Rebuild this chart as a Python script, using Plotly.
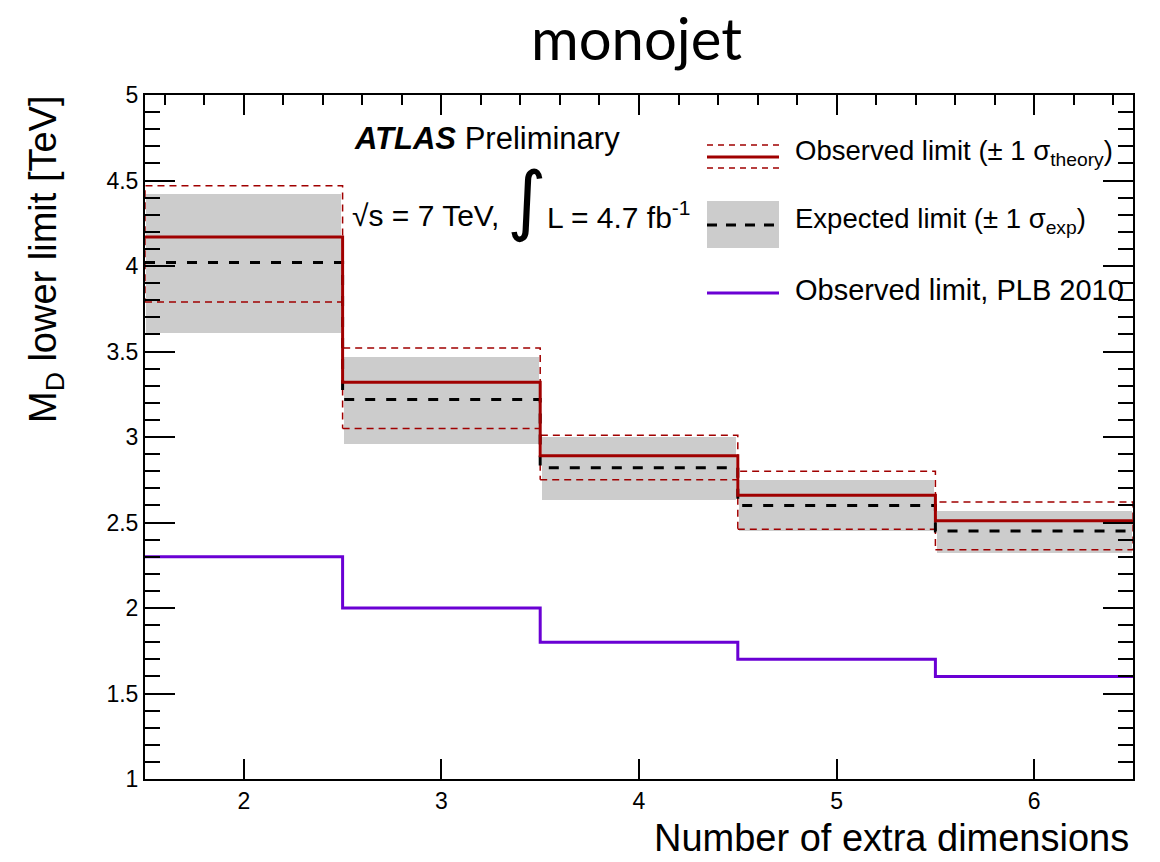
import plotly.graph_objects as go

# ---- data ----
n_dims = [2, 3, 4, 5, 6]
obs_limit = [4.17, 3.32, 2.89, 2.66, 2.51]
obs_up = [4.47, 3.52, 3.01, 2.80, 2.62]
obs_dn = [3.79, 3.05, 2.75, 2.46, 2.34]
exp_limit = [4.02, 3.22, 2.82, 2.60, 2.45]
exp_up = [4.42, 3.47, 3.00, 2.75, 2.57]
exp_dn = [3.61, 2.96, 2.63, 2.45, 2.32]
plb2010 = [2.30, 2.00, 1.80, 1.70, 1.60]

RED = "#a00000"
PURPLE = "#6a00d4"
GREY = "#cccccc"
FONT = "Liberation Sans"

W, H = 1160, 862
L, R, T, B = 145, 1133, 95, 779


def px(x):
    return (x - L) / (R - L)


def py(y):
    return (B - y) / (B - T)


edges = [v - 0.5 for v in n_dims] + [n_dims[-1] + 0.5]


def step(vals):
    return vals + [vals[-1]]


fig = go.Figure()

# expected +-1 sigma band (grey boxes)
fig.add_trace(go.Bar(
    x=n_dims, base=exp_dn, y=[u - d for u, d in zip(exp_up, exp_dn)],
    width=0.985, marker=dict(color=GREY, line=dict(width=0)),
    showlegend=False, hoverinfo="skip"))

# theory +-1 sigma boxes (dashed red outlines)
bx, by = [], []
for n, d, u in zip(n_dims, obs_dn, obs_up):
    bx += [n - 0.5, n + 0.5, n + 0.5, n - 0.5, n - 0.5, None]
    by += [d, d, u, u, d, None]
fig.add_trace(go.Scatter(x=bx, y=by, mode="lines",
                         line=dict(color=RED, width=1.5, dash="7px,5px"),
                         showlegend=False, hoverinfo="skip"))

# expected limit
fig.add_trace(go.Scatter(x=edges, y=step(exp_limit), mode="lines",
                         line=dict(color="black", width=3, shape="hv", dash="10px,11px"),
                         showlegend=False))
# observed limit
fig.add_trace(go.Scatter(x=edges, y=step(obs_limit), mode="lines",
                         line=dict(color=RED, width=3, shape="hv"),
                         showlegend=False))
# PLB 2010
fig.add_trace(go.Scatter(x=edges, y=step(plb2010), mode="lines", xaxis="x2",
                         line=dict(color=PURPLE, width=3, shape="hv"),
                         showlegend=False))

shapes = []
# legend item 1
x0, x1 = px(707), px(779)
shapes.append(dict(type="line", xref="paper", yref="paper", x0=x0, x1=x1, y0=py(145), y1=py(145),
                   line=dict(color=RED, width=1.5, dash="6px,5px")))
shapes.append(dict(type="line", xref="paper", yref="paper", x0=x0, x1=x1, y0=py(157), y1=py(157),
                   line=dict(color=RED, width=3)))
shapes.append(dict(type="line", xref="paper", yref="paper", x0=x0, x1=x1, y0=py(168), y1=py(168),
                   line=dict(color=RED, width=1.5, dash="6px,5px")))
# legend item 2
shapes.append(dict(type="rect", xref="paper", yref="paper", x0=x0, x1=x1, y0=py(248), y1=py(201),
                   fillcolor=GREY, line=dict(width=0)))
shapes.append(dict(type="line", xref="paper", yref="paper", x0=x0, x1=x1, y0=py(225), y1=py(225),
                   line=dict(color="black", width=3, dash="10px,9px")))
# legend item 3
shapes.append(dict(type="line", xref="paper", yref="paper", x0=x0, x1=x1, y0=py(293), y1=py(293),
                   line=dict(color=PURPLE, width=3)))

ann = []


def add_text(text, x, y, size, xanchor="left", yanchor="middle", family=FONT, angle=0):
    ann.append(dict(text=text, x=px(x), y=py(y), xref="paper", yref="paper",
                    xanchor=xanchor, yanchor=yanchor, showarrow=False, textangle=angle,
                    font=dict(family=family, size=size, color="black")))


add_text("monojet", 636, 37, 58, xanchor="center", family="Lato")
add_text("<b><i>ATLAS</i></b> Preliminary", 352, 138, 31)
add_text("√s = 7 TeV,", 350, 215, 30)
add_text("∫", 527, 199, 76, xanchor="center", family="DejaVu Sans")
add_text("L = 4.7 fb<sup>-1</sup>", 545, 215, 30)
add_text("Observed limit (± 1 σ<sub>theory</sub>)", 793, 153, 27.5)
add_text("Expected limit (± 1 σ<sub>exp</sub>)", 793, 220, 27.5)
add_text("Observed limit, PLB 2010", 793, 290, 29)
add_text("Number of extra dimensions", 1131, 861, 38, xanchor="right", yanchor="bottom")
add_text("M<sub>D</sub> lower limit [TeV]", 46, 93, 38, xanchor="center", yanchor="top", angle=-90)

fig.update_layout(
    width=W, height=H,
    margin=dict(l=L, r=W - R, t=T, b=H - B),
    paper_bgcolor="white", plot_bgcolor="white",
    shapes=shapes, annotations=ann, showlegend=False,
    bargap=0,
    xaxis=dict(range=[1.5, 6.5], tickvals=n_dims, ticks="inside", ticklen=20, tickwidth=1.5,
               tickcolor="black", showline=True, linewidth=2, linecolor="black", mirror=True,
               showgrid=False, zeroline=False,
               tickfont=dict(family=FONT, size=23, color="black")),
    xaxis2=dict(range=[1.5, 6.5], overlaying="x", side="top", ticks="inside", ticklen=20,
                tickwidth=1.5, tickcolor="black", tick0=2, dtick=1, showticklabels=False,
                showline=False, showgrid=False, zeroline=False,
                minor=dict(ticks="inside", ticklen=10, dtick=0.2, tick0=2, tickwidth=1.5,
                           tickcolor="black", showgrid=False)),
    yaxis=dict(range=[1, 5], tick0=1, dtick=0.5, ticks="inside", ticklen=30, tickwidth=1.5,
               tickcolor="black", showline=True, linewidth=2, linecolor="black", mirror="ticks",
               showgrid=False, zeroline=False,
               tickfont=dict(family=FONT, size=23, color="black"),
               minor=dict(ticks="inside", ticklen=15, dtick=0.1, tickwidth=1.5,
                          tickcolor="black", showgrid=False)),
)

fig.write_html("out.html")
